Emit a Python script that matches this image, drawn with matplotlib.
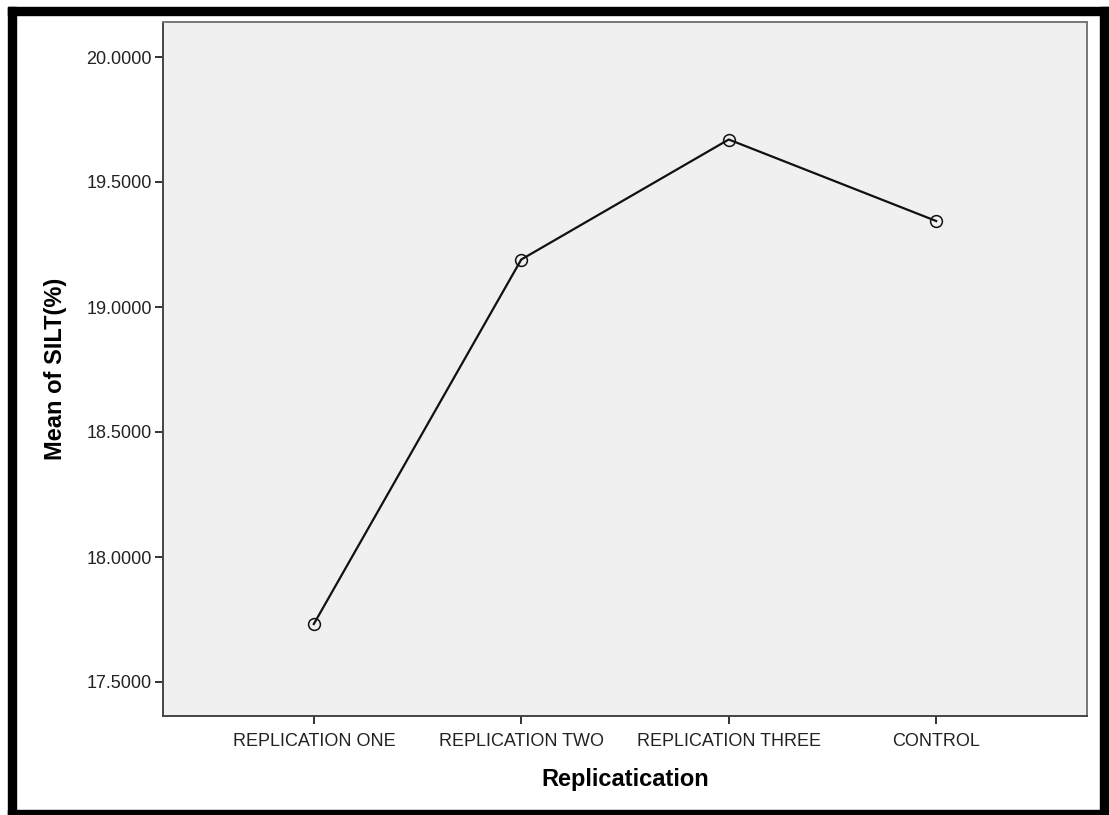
import matplotlib
matplotlib.use("Agg")
import matplotlib.pyplot as plt
from matplotlib.patches import Rectangle

plt.rcParams['font.family'] = ['Liberation Sans', 'DejaVu Sans']

# data
groups = ["REPLICATION ONE", "REPLICATION TWO", "REPLICATION THREE", "CONTROL"]
silt_mean = [17.732, 19.190, 19.670, 19.344]
y_ticks = [17.5, 18.0, 18.5, 19.0, 19.5, 20.0]

W, H = 1109, 815
fig = plt.figure(figsize=(W / 100, H / 100), dpi=100)
fig.patch.set_facecolor("white")

ax = fig.add_axes([163 / W, 1 - 716 / H, (1087 - 163) / W, (716 - 22) / H])
ax.set_facecolor("#f0f0f0")

x = list(range(len(groups)))
ax.plot(x, silt_mean, color="#111111", lw=1.6, marker="o", ms=8.5,
        mfc="none", mec="#111111", mew=1.1)

ax.set_xlim(-0.727, len(groups) - 1 + 0.727)
ax.set_ylim(17.364, 20.14)
ax.set_xticks(x)
ax.set_xticklabels(groups)
ax.set_yticks(y_ticks)
ax.set_yticklabels(["%.4f" % v for v in y_ticks])

for s in ax.spines.values():
    s.set_color("#444444")
    s.set_linewidth(1.4)
ax.spines["top"].set_color("#777777")
ax.spines["right"].set_color("#777777")

ax.tick_params(axis="both", direction="out", length=6, width=1.4,
               color="#333333", labelsize=13, labelcolor="#222222", pad=2)
ax.tick_params(axis="x", pad=6)

ax.set_xlabel("Replicatication", fontsize=17, fontweight="bold", labelpad=13)
ax.set_ylabel("Mean of SILT(%)", fontsize=17, fontweight="bold", labelpad=14)

# thick black frame around the whole picture
frame = [(8, 7, 8, H - 7), (8, 7, W - 8, 8), (1100, 7, 9, H - 7), (8, 810, W - 8, 5)]
for fx, fy, fw, fh in frame:
    fig.patches.append(Rectangle((fx / W, 1 - (fy + fh) / H), fw / W, fh / H,
                                 transform=fig.transFigure, color="black", zorder=10))

fig.savefig("out.png", dpi=100)
